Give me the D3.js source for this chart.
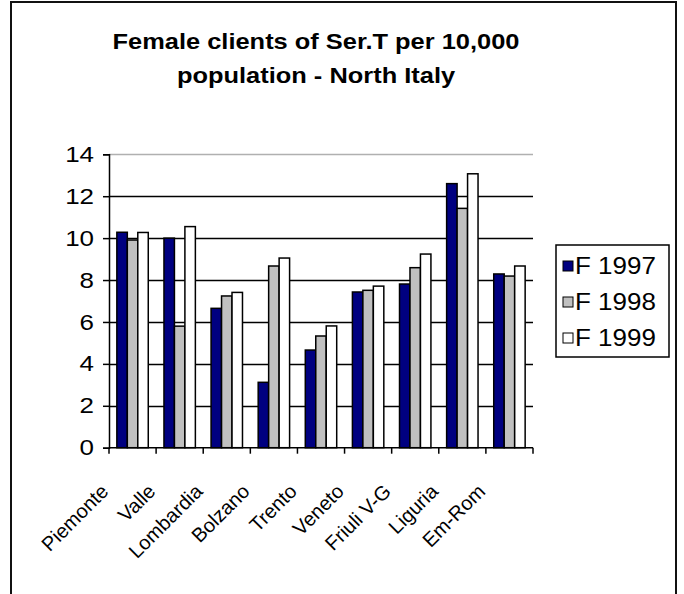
<!DOCTYPE html>
<html>
<head>
<meta charset="utf-8">
<script src="https://cdn.jsdelivr.net/npm/d3@7"></script>
<style>
  body { margin: 0; background: #fff; }
  text { font-family: Arial, "Liberation Sans", sans-serif; fill: #000; }
</style>
</head>
<body>
<div class="chart"></div>
<script>
// data
const regions = ['Piemonte', 'Valle', 'Lombardia', 'Bolzano', 'Trento', 'Veneto', 'Friuli V-G', 'Liguria', 'Em-Rom'];
const seriesNames = ['F 1997', 'F 1998', 'F 1999'];
const f1997 = [10.28, 10.0, 6.65, 3.12, 4.66, 7.43, 7.81, 12.6, 8.29];
const f1998 = [9.91, 5.8, 7.24, 8.67, 5.33, 7.51, 8.59, 11.42, 8.19];
const f1999 = [10.27, 10.55, 7.41, 9.05, 5.81, 7.71, 9.24, 13.07, 8.67];
const yTicks = [0, 2, 4, 6, 8, 10, 12, 14];
const titleLines = ['Female clients of Ser.T per 10,000', 'population - North Italy'];
const colors = ['#000080', '#c0c0c0', '#ffffff'];

const width = 684, height = 594;
const series = [f1997, f1998, f1999];
// the original text is drawn a bit wider than plain Arial
const stretch = 'scale(1.13,1)';

const svg = d3.select('.chart')
  .append('svg')
  .attr('width', width)
  .attr('height', height);

// outer chart border
svg.append('rect')
  .attr('x', 11).attr('y', 2)
  .attr('width', 665).attr('height', 620)
  .style('fill', 'none')
  .style('stroke', '#111')
  .style('stroke-width', '2px');

// title
svg.selectAll('.title')
  .data(titleLines)
  .join('text')
  .attr('class', 'title')
  .attr('transform', (d, i) => `translate(316,${49 + i * 34}) ${stretch}`)
  .attr('text-anchor', 'middle')
  .style('font-weight', 'bold')
  .style('font-size', '22.5px')
  .text(d => d);

const x = d3.scaleBand()
  .domain(regions)
  .range([109, 533]);

const y = d3.scaleLinear()
  .domain([0, 14])
  .range([447.7, 154.3]);

const barW = x.bandwidth() / 4.5;

// gridlines
svg.selectAll('.grid')
  .data(yTicks.slice(1))
  .join('line')
  .attr('class', 'grid')
  .attr('x1', 109).attr('x2', 533)
  .attr('y1', d => Math.round(y(d)) + 0.5)
  .attr('y2', d => Math.round(y(d)) + 0.5)
  .style('stroke', d => d === 14 ? '#b0b0b0' : '#000')
  .style('stroke-width', '1.5px');

// bars
const groups = svg.selectAll('.region')
  .data(regions)
  .join('g')
  .attr('class', 'region')
  .attr('transform', d => `translate(${x(d) + barW * 0.75},0)`);

groups.selectAll('rect')
  .data((d, i) => series.map((s, k) => ({ k: k, v: s[i] })))
  .join('rect')
  .attr('x', d => d.k * barW)
  .attr('y', d => y(d.v))
  .attr('width', barW)
  .attr('height', d => y(0) - y(d.v))
  .style('fill', d => colors[d.k])
  .style('stroke', '#000')
  .style('stroke-width', '1.5px');

// y axis
const yAxis = svg.append('g')
  .attr('transform', 'translate(109,0)')
  .call(d3.axisLeft(y).tickValues(yTicks).tickSize(6).tickPadding(10).tickFormat(d3.format('d')));
yAxis.selectAll('text')
  .attr('x', 0)
  .attr('transform', 'translate(-15,0) scale(1.18,1)')
  .style('font-size', '22px')
  .style('font-family', 'Arial, "Liberation Sans", sans-serif');
yAxis.selectAll('line, path').style('stroke', '#000').style('stroke-width', '1.5px');

// x axis, ticks on the category boundaries
const xAxis = svg.append('g')
  .attr('transform', `translate(0,${y(0)})`);
xAxis.append('line')
  .attr('x1', 109).attr('x2', 533)
  .style('stroke', '#000').style('stroke-width', '1.5px');
xAxis.selectAll('.tick')
  .data(regions.concat(['end']))
  .join('line')
  .attr('class', 'tick')
  .attr('x1', (d, i) => i < regions.length ? x(d) : x.range()[1])
  .attr('x2', (d, i) => i < regions.length ? x(d) : x.range()[1])
  .attr('y1', 0).attr('y2', 6)
  .style('stroke', '#000').style('stroke-width', '1.5px');

xAxis.selectAll('.label')
  .data(regions)
  .join('text')
  .attr('class', 'label')
  .attr('text-anchor', 'end')
  .attr('transform', d => `translate(${x(d) + x.bandwidth() / 2 - 23},${45}) rotate(-45)`)
  .style('font-size', '20px')
  .text(d => d);

// legend
const legend = svg.append('g')
  .attr('transform', 'translate(556,245)');
legend.append('rect')
  .attr('width', 113).attr('height', 112)
  .style('fill', '#fff')
  .style('stroke', '#000')
  .style('stroke-width', '1.5px');
const item = legend.selectAll('.item')
  .data(seriesNames)
  .join('g')
  .attr('class', 'item')
  .attr('transform', (d, i) => `translate(7,${21 + i * 36})`);
item.append('rect')
  .attr('x', 0).attr('y', -5)
  .attr('width', 10).attr('height', 10)
  .style('fill', (d, i) => colors[i])
  .style('stroke', '#000')
  .style('stroke-width', '1px');
item.append('text')
  .attr('transform', 'translate(12,8) ' + stretch)
  .style('font-size', '23px')
  .text(d => d);
</script>
</body>
</html>
